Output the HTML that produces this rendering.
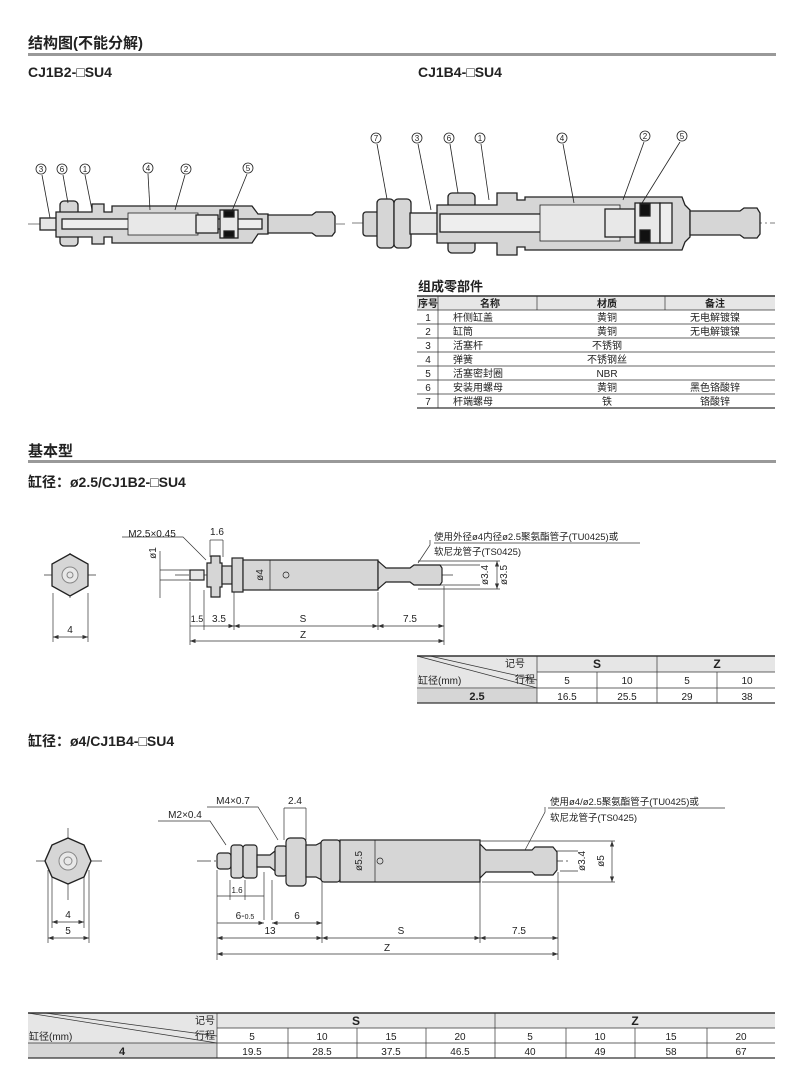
<!DOCTYPE html>
<html><head><meta charset="utf-8"><style>
html,body{margin:0;padding:0;background:#fff}
svg{display:block}
text{font-family:"Liberation Sans","Noto Sans CJK SC",sans-serif;fill:#222}
.b{font-weight:bold}
</style></head><body>
<svg width="800" height="1069" viewBox="0 0 800 1069" xmlns="http://www.w3.org/2000/svg">
<defs>
<marker id="a" markerWidth="8" markerHeight="6" refX="8" refY="3" orient="auto-start-reverse"><path d="M0,0 L8,3 L0,6z" fill="#333"/></marker>
</defs>
<!-- Headers -->
<text x="28" y="48" font-size="15" class="b">结构图(不能分解)</text>
<rect x="28" y="53" width="748" height="3" fill="#999"/>
<text x="28" y="77" font-size="14" class="b">CJ1B2-□SU4</text>
<text x="418" y="77" font-size="14" class="b">CJ1B4-□SU4</text>

<!-- Drawing 1 -->
<g stroke="#222" stroke-width="1.3" fill="#d6d6d6">
<line x1="28" y1="224" x2="345" y2="224" stroke="#555" stroke-width="0.7" stroke-dasharray="14,3,2,3"/>
<rect x="40" y="218" width="25" height="12" fill="#e6e6e6"/>
<rect x="60" y="201" width="18" height="45" rx="4"/>
<path d="M56 212 L92 212 L92 204 L104 204 L104 212 L112 212 L112 206 L252 206 L258 214 L268 214 L268 234 L258 234 L252 243 L112 243 L112 237 L104 237 L104 244 L92 244 L92 237 L56 237z"/>
<path d="M268 215 L312 215 L316 212 L332 212 L335 216 L335 232 L332 236 L316 236 L312 233 L268 233z"/>
<rect x="62" y="219" width="200" height="10" fill="#eee"/>
<rect x="128" y="213" width="70" height="22" fill="#e8e8e8" stroke-width="0.8"/>
<rect x="196" y="215" width="22" height="18" fill="#e8e8e8"/>
<rect x="220" y="210" width="18" height="28" fill="#e8e8e8"/>
<rect x="224" y="211" width="10" height="6" fill="#111"/>
<rect x="224" y="231" width="10" height="6" fill="#111"/>
</g>
<g font-size="9" text-anchor="middle" stroke="#222" stroke-width="0.8">
<g fill="#fff"><circle cx="41" cy="169" r="5"/><circle cx="62" cy="169" r="5"/><circle cx="85" cy="169" r="5"/><circle cx="148" cy="168" r="5"/><circle cx="186" cy="169" r="5"/><circle cx="248" cy="168" r="5"/></g>
<line x1="42" y1="175" x2="50" y2="218"/><line x1="63" y1="175" x2="68" y2="203"/><line x1="85" y1="175" x2="92" y2="210"/><line x1="148" y1="174" x2="150" y2="210"/><line x1="185" y1="175" x2="175" y2="210"/><line x1="247" y1="174" x2="232" y2="211"/>
</g>
<g font-size="8" text-anchor="middle"><text x="41" y="172">3</text><text x="62" y="172">6</text><text x="85" y="172">1</text><text x="148" y="171">4</text><text x="186" y="172">2</text><text x="248" y="171">5</text></g>

<!-- Drawing 2 -->
<g stroke="#222" stroke-width="1.3" fill="#d6d6d6">
<line x1="352" y1="223" x2="775" y2="223" stroke="#555" stroke-width="0.7" stroke-dasharray="14,3,2,3"/>
<rect x="363" y="212" width="20" height="24" rx="3"/>
<rect x="377" y="199" width="17" height="49" rx="4"/>
<rect x="394" y="199" width="17" height="49" rx="4"/>
<rect x="410" y="213" width="36" height="21" fill="#e6e6e6"/>
<rect x="448" y="193" width="27" height="15" rx="4"/><rect x="448" y="238" width="27" height="15" rx="4"/>
<path d="M437 205 L497 205 L497 193 L517 193 L517 200 L525 200 L525 197 L682 197 L685 205 L690 210 L690 237 L685 242 L682 250 L525 250 L525 247 L517 247 L517 255 L497 255 L497 243 L437 243z"/>
<path d="M690 211 L740 211 L744 208 L757 208 L760 213 L760 234 L757 238 L744 238 L740 235 L690 235z"/>
<rect x="440" y="214" width="215" height="18" fill="#eee"/>
<rect x="540" y="205" width="80" height="36" fill="#e8e8e8" stroke-width="0.8"/>
<rect x="605" y="209" width="30" height="28" fill="#e8e8e8"/>
<rect x="635" y="203" width="25" height="40" fill="#e8e8e8"/>
<rect x="640" y="204" width="10" height="12" fill="#111"/><rect x="640" y="230" width="10" height="12" fill="#111"/>
<rect x="660" y="203" width="12" height="40" fill="#eee"/>
</g>
<g stroke="#222" stroke-width="0.8" fill="#fff">
<circle cx="376" cy="138" r="5"/><circle cx="417" cy="138" r="5"/><circle cx="449" cy="138" r="5"/><circle cx="480" cy="138" r="5"/><circle cx="562" cy="138" r="5"/><circle cx="645" cy="136" r="5"/><circle cx="682" cy="136" r="5"/>
<line x1="377" y1="144" x2="387" y2="199"/><line x1="418" y1="144" x2="431" y2="210"/><line x1="450" y1="144" x2="458" y2="193"/><line x1="481" y1="144" x2="489" y2="200"/><line x1="563" y1="144" x2="574" y2="203"/><line x1="644" y1="142" x2="623" y2="200"/><line x1="680" y1="142" x2="642" y2="203"/>
</g>
<g font-size="8" text-anchor="middle"><text x="376" y="141">7</text><text x="417" y="141">3</text><text x="449" y="141">6</text><text x="480" y="141">1</text><text x="562" y="141">4</text><text x="645" y="139">2</text><text x="682" y="139">5</text></g>

<!-- Parts table -->
<text x="418" y="291" font-size="13" class="b">组成零部件</text>
<rect x="417" y="296" width="358" height="14" fill="#e6e6e6"/>
<g stroke="#333" stroke-width="0.7">
<line x1="417" y1="296" x2="775" y2="296" stroke-width="1.5"/>
<line x1="417" y1="310" x2="775" y2="310"/>
<line x1="417" y1="324" x2="775" y2="324"/><line x1="417" y1="338" x2="775" y2="338"/><line x1="417" y1="352" x2="775" y2="352"/><line x1="417" y1="366" x2="775" y2="366"/><line x1="417" y1="380" x2="775" y2="380"/><line x1="417" y1="394" x2="775" y2="394"/>
<line x1="417" y1="408" x2="775" y2="408" stroke-width="1.2"/>
<line x1="438" y1="296" x2="438" y2="408"/><line x1="537" y1="296" x2="537" y2="310"/><line x1="665" y1="296" x2="665" y2="310"/>
</g>
<g font-size="10" text-anchor="middle">
<text x="428" y="307" class="b">序号</text><text x="490" y="307" class="b">名称</text><text x="607" y="307" class="b">材质</text><text x="715" y="307" class="b">备注</text>
<text x="428" y="321">1</text><text x="428" y="335">2</text><text x="428" y="349">3</text><text x="428" y="363">4</text><text x="428" y="377">5</text><text x="428" y="391">6</text><text x="428" y="405">7</text>
<text x="607" y="321">黄铜</text><text x="607" y="335">黄铜</text><text x="607" y="349">不锈钢</text><text x="607" y="363">不锈钢丝</text><text x="607" y="377">NBR</text><text x="607" y="391">黄铜</text><text x="607" y="405">铁</text>
<text x="715" y="321">无电解镀镍</text><text x="715" y="335">无电解镀镍</text><text x="715" y="391">黑色铬酸锌</text><text x="715" y="405">铬酸锌</text>
</g>
<g font-size="10"><text x="453" y="321">杆侧缸盖</text><text x="453" y="335">缸筒</text><text x="453" y="349">活塞杆</text><text x="453" y="363">弹簧</text><text x="453" y="377">活塞密封圈</text><text x="453" y="391">安装用螺母</text><text x="453" y="405">杆端螺母</text></g>

<!-- 基本型 -->
<text x="28" y="456" font-size="15" class="b">基本型</text>
<rect x="28" y="460" width="748" height="3" fill="#999"/>
<text x="28" y="487" font-size="14" class="b">缸径：ø2.5/CJ1B2-□SU4</text>

<!-- Drawing 3 -->
<g stroke="#333" stroke-width="0.7" fill="none">
<line x1="44" y1="575" x2="96" y2="575"/><line x1="70" y1="553" x2="70" y2="598"/>
<line x1="53" y1="593" x2="53" y2="642"/><line x1="88" y1="593" x2="88" y2="642"/>
<line x1="53" y1="637" x2="88" y2="637" marker-start="url(#a)" marker-end="url(#a)"/>
<line x1="175" y1="575" x2="455" y2="575" stroke-dasharray="14,3,2,3"/>
<line x1="190" y1="582" x2="190" y2="645"/><line x1="204" y1="590" x2="204" y2="630"/><line x1="234" y1="592" x2="234" y2="630"/><line x1="378" y1="592" x2="378" y2="630"/><line x1="444" y1="586" x2="444" y2="645"/>
<line x1="190" y1="626" x2="204" y2="626"/><line x1="204" y1="626" x2="234" y2="626" marker-end="url(#a)"/>
<line x1="234" y1="626" x2="378" y2="626" marker-start="url(#a)" marker-end="url(#a)"/>
<line x1="378" y1="626" x2="444" y2="626" marker-start="url(#a)" marker-end="url(#a)"/>
<line x1="190" y1="641" x2="444" y2="641" marker-start="url(#a)" marker-end="url(#a)"/>
<line x1="210" y1="540" x2="210" y2="557"/><line x1="223" y1="540" x2="223" y2="557"/>
<line x1="210" y1="540" x2="223" y2="540"/>
<line x1="160" y1="551" x2="160" y2="598"/><line x1="160" y1="570" x2="190" y2="570"/><line x1="160" y1="580" x2="190" y2="580"/>
<polyline points="122,537 183,537 206,560"/>
<line x1="418" y1="561" x2="500" y2="561"/><line x1="418" y1="589" x2="500" y2="589"/>
<line x1="497" y1="561" x2="497" y2="589" marker-start="url(#a)" marker-end="url(#a)"/>
<line x1="440" y1="565" x2="480" y2="565"/><line x1="440" y1="585" x2="480" y2="585"/>
<polyline points="430,540 430,545 418,563"/>
<line x1="434" y1="543" x2="640" y2="543"/>
</g>
<polygon points="70,554 88,564 88,586 70,596 52,586 52,564" fill="#d6d6d6" stroke="#222" stroke-width="1.3"/>
<circle cx="70" cy="575" r="8" fill="#e8e8e8" stroke="#888"/><circle cx="70" cy="575" r="3" fill="none" stroke="#888"/>
<g stroke="#222" stroke-width="1.2" fill="#d6d6d6">
<rect x="190" y="570" width="14" height="10" fill="#e6e6e6"/>
<path d="M207 563 L211 563 L211 556 L220 556 L220 563 L222 563 L222 587 L220 587 L220 597 L211 597 L211 587 L207 587z"/>
<rect x="222" y="566" width="10" height="18"/>
<rect x="232" y="558" width="11" height="34"/>
<rect x="243" y="560" width="135" height="30"/>
<path d="M378 561 L386 568 L410 568 L414 565 L440 565 L442 568 L442 582 L440 585 L414 585 L410 582 L386 582 L378 589z"/>
</g>
<g stroke="#222" stroke-width="0.7" fill="none"><line x1="270" y1="560" x2="270" y2="590"/><circle cx="286" cy="575" r="3"/></g>
<g font-size="10" text-anchor="middle">
<text x="70" y="633">4</text><text x="217" y="535">1.6</text><text x="152" y="537">M2.5×0.45</text>
<text x="197" y="622" font-size="9">1.5</text><text x="219" y="622">3.5</text><text x="303" y="622">S</text><text x="410" y="622">7.5</text><text x="303" y="638">Z</text>
<text transform="translate(156,553) rotate(-90)">ø1</text><text transform="translate(263,575) rotate(-90)">ø4</text>
<text transform="translate(488,575) rotate(-90)">ø3.4</text><text transform="translate(507,575) rotate(-90)">ø3.5</text>
</g>
<g font-size="9.5"><text x="434" y="540">使用外径ø4内径ø2.5聚氨酯管子(TU0425)或</text><text x="434" y="555">软尼龙管子(TS0425)</text></g>

<!-- Table 2 -->
<rect x="417" y="656" width="120" height="47" fill="#e6e6e6"/>
<rect x="537" y="656" width="238" height="16" fill="#e6e6e6"/>
<rect x="417" y="689" width="120" height="14" fill="#d6d6d6"/>
<g stroke="#333" stroke-width="0.7">
<line x1="417" y1="656" x2="775" y2="656" stroke-width="1.5"/><line x1="537" y1="672" x2="775" y2="672"/><line x1="417" y1="688" x2="775" y2="688"/><line x1="417" y1="703" x2="775" y2="703" stroke-width="1.2"/>
<line x1="537" y1="656" x2="537" y2="703"/><line x1="657" y1="656" x2="657" y2="703"/><line x1="597" y1="672" x2="597" y2="703"/><line x1="717" y1="672" x2="717" y2="703"/>
<line x1="417" y1="656" x2="537" y2="688"/><line x1="430" y1="656" x2="537" y2="680"/>
</g>
<g font-size="10" text-anchor="middle">
<text x="525" y="667" text-anchor="end">记号</text><text x="535" y="683" text-anchor="end">行程</text><text x="418" y="684" text-anchor="start">缸径(mm)</text>
<text x="597" y="668" class="b" font-size="12">S</text><text x="717" y="668" class="b" font-size="12">Z</text>
<text x="567" y="684">5</text><text x="627" y="684">10</text><text x="687" y="684">5</text><text x="747" y="684">10</text>
<text x="477" y="700" class="b" font-size="11">2.5</text><text x="567" y="700">16.5</text><text x="627" y="700">25.5</text><text x="687" y="700">29</text><text x="747" y="700">38</text>
</g>

<text x="28" y="746" font-size="14" class="b">缸径：ø4/CJ1B4-□SU4</text>

<!-- Drawing 4 -->
<g stroke="#333" stroke-width="0.7" fill="none">
<line x1="36" y1="861" x2="102" y2="861"/><line x1="68" y1="828" x2="68" y2="900"/>
<line x1="48" y1="870" x2="48" y2="943"/><line x1="89" y1="870" x2="89" y2="943"/><line x1="52" y1="870" x2="52" y2="928"/><line x1="84" y1="870" x2="84" y2="928"/>
<line x1="52" y1="922" x2="84" y2="922" marker-start="url(#a)" marker-end="url(#a)"/>
<line x1="48" y1="938" x2="89" y2="938" marker-start="url(#a)" marker-end="url(#a)"/>
<line x1="197" y1="861" x2="570" y2="861" stroke-dasharray="14,3,2,3"/>
<line x1="217" y1="870" x2="217" y2="960"/><line x1="230" y1="880" x2="230" y2="900"/><line x1="245" y1="880" x2="245" y2="900"/><line x1="264" y1="872" x2="264" y2="920"/><line x1="272" y1="880" x2="272" y2="920"/><line x1="322" y1="880" x2="322" y2="943"/><line x1="480" y1="882" x2="480" y2="943"/><line x1="558" y1="872" x2="558" y2="960"/>
<line x1="217" y1="896" x2="264" y2="896"/>
<line x1="217" y1="923" x2="264" y2="923" marker-end="url(#a)"/>
<line x1="272" y1="923" x2="322" y2="923" marker-start="url(#a)" marker-end="url(#a)"/>
<line x1="217" y1="938" x2="322" y2="938" marker-start="url(#a)" marker-end="url(#a)"/>
<line x1="322" y1="938" x2="480" y2="938" marker-start="url(#a)" marker-end="url(#a)"/>
<line x1="480" y1="938" x2="558" y2="938" marker-start="url(#a)" marker-end="url(#a)"/>
<line x1="217" y1="954" x2="558" y2="954" marker-start="url(#a)" marker-end="url(#a)"/>
<line x1="284" y1="808" x2="284" y2="840"/><line x1="306" y1="808" x2="306" y2="840"/><line x1="284" y1="808" x2="306" y2="808"/>
<polyline points="158,821 210,821 226,845"/>
<polyline points="207,807 258,807 278,840"/>
<line x1="478" y1="841" x2="615" y2="841"/><line x1="482" y1="882" x2="615" y2="882"/>
<line x1="612" y1="841" x2="612" y2="882" marker-start="url(#a)" marker-end="url(#a)"/>
<line x1="555" y1="851" x2="578" y2="851"/><line x1="560" y1="871" x2="578" y2="871"/>
<polyline points="545,807 545,812 524,852"/><line x1="548" y1="808" x2="725" y2="808"/>
</g>
<polygon points="68,838 84,845 91,861 84,877 68,884 52,877 45,861 52,845" fill="#d6d6d6" stroke="#222" stroke-width="1.4"/>
<circle cx="68" cy="861" r="9" fill="#e8e8e8" stroke="#888"/><circle cx="68" cy="861" r="4" fill="none" stroke="#888"/>
<g stroke="#222" stroke-width="1.2" fill="#d6d6d6">
<rect x="217" y="853" width="14" height="16" rx="3"/>
<rect x="231" y="845" width="12" height="33" rx="3"/><rect x="243" y="845" width="14" height="33" rx="3"/>
<path d="M257 855 L270 855 L275 851 L278 851 L278 871 L275 871 L270 867 L257 867z"/>
<rect x="275" y="846" width="12" height="30" rx="3"/>
<rect x="286" y="838" width="20" height="48" rx="4"/>
<path d="M306 845 L316 845 L322 842 L322 880 L316 877 L306 877z"/>
<rect x="321" y="840" width="19" height="42" rx="3"/>
<rect x="340" y="840" width="140" height="42"/>
<path d="M480 844 L486 850 L532 850 L535 847 L553 847 L557 852 L557 870 L553 875 L535 875 L532 872 L486 872 L480 878z"/>
</g>
<g stroke="#222" stroke-width="0.7" fill="none"><line x1="375" y1="840" x2="375" y2="882"/><circle cx="380" cy="861" r="3"/></g>
<g font-size="10" text-anchor="middle">
<text x="68" y="918">4</text><text x="68" y="934">5</text>
<text x="185" y="818">M2×0.4</text><text x="233" y="804">M4×0.7</text><text x="295" y="804">2.4</text>
<text x="237" y="893" font-size="8">1.6</text><text x="245" y="919">6-<tspan font-size="7">0.5</tspan></text><text x="297" y="919">6</text><text x="270" y="934">13</text><text x="401" y="934">S</text><text x="519" y="934">7.5</text><text x="387" y="951">Z</text>
<text transform="translate(362,861) rotate(-90)">ø5.5</text><text transform="translate(585,861) rotate(-90)">ø3.4</text><text transform="translate(604,861) rotate(-90)">ø5</text>
</g>
<g font-size="9.5"><text x="550" y="805">使用ø4/ø2.5聚氨酯管子(TU0425)或</text><text x="550" y="821">软尼龙管子(TS0425)</text></g>

<!-- Table 3 -->
<rect x="28" y="1013" width="189" height="45" fill="#e6e6e6"/>
<rect x="217" y="1013" width="558" height="15" fill="#e6e6e6"/>
<rect x="28" y="1043" width="189" height="15" fill="#d6d6d6"/>
<g stroke="#333" stroke-width="0.7">
<line x1="28" y1="1013" x2="775" y2="1013" stroke-width="1.5"/><line x1="217" y1="1028" x2="775" y2="1028"/><line x1="28" y1="1043" x2="775" y2="1043"/><line x1="28" y1="1058" x2="775" y2="1058" stroke-width="1.2"/>
<line x1="217" y1="1013" x2="217" y2="1058"/><line x1="495" y1="1013" x2="495" y2="1058"/>
<line x1="288" y1="1028" x2="288" y2="1058"/><line x1="357" y1="1028" x2="357" y2="1058"/><line x1="426" y1="1028" x2="426" y2="1058"/><line x1="566" y1="1028" x2="566" y2="1058"/><line x1="635" y1="1028" x2="635" y2="1058"/><line x1="707" y1="1028" x2="707" y2="1058"/>
<line x1="28" y1="1013" x2="217" y2="1043"/><line x1="45" y1="1013" x2="217" y2="1036"/>
</g>
<g font-size="10" text-anchor="middle">
<text x="215" y="1024" text-anchor="end">记号</text><text x="215" y="1039" text-anchor="end">行程</text><text x="29" y="1040" text-anchor="start">缸径(mm)</text>
<text x="356" y="1025" class="b" font-size="12">S</text><text x="635" y="1025" class="b" font-size="12">Z</text>
<text x="252" y="1040">5</text><text x="322" y="1040">10</text><text x="391" y="1040">15</text><text x="460" y="1040">20</text><text x="530" y="1040">5</text><text x="600" y="1040">10</text><text x="671" y="1040">15</text><text x="741" y="1040">20</text>
<text x="122" y="1055" class="b" font-size="11">4</text><text x="252" y="1055">19.5</text><text x="322" y="1055">28.5</text><text x="391" y="1055">37.5</text><text x="460" y="1055">46.5</text><text x="530" y="1055">40</text><text x="600" y="1055">49</text><text x="671" y="1055">58</text><text x="741" y="1055">67</text>
</g>
</svg>
</body></html>
